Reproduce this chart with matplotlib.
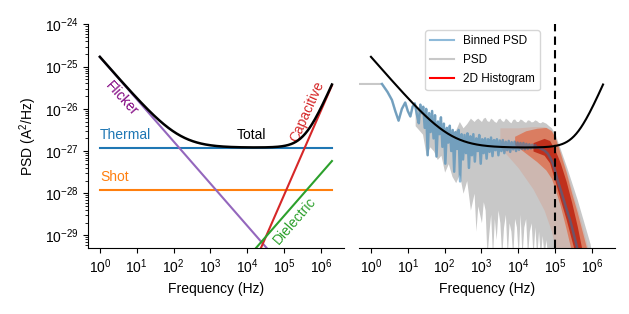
import numpy as np
import matplotlib.pyplot as plt
from matplotlib.lines import Line2D

plt.rcParams['font.family'] = ['Liberation Sans', 'DejaVu Sans']
plt.rcParams['mathtext.fontset'] = 'custom'
plt.rcParams['mathtext.rm'] = 'Liberation Sans'
plt.rcParams['mathtext.it'] = 'Liberation Sans:italic'
plt.rcParams['font.size'] = 10

# noise model parameters (A^2/Hz)
thermal_level = 1.2e-27
shot_level = 1.2e-28
flicker_coef = 1.7e-25      # / f
capacitive_coef = 9e-39     # * f^2
dielectric_coef = 2.9e-34   # * f
f_min, f_max = 1.0, 2e6

# binned PSD (log10 f, log10 PSD)
binned_logf = [0.30, 0.45, 0.57, 0.66, 0.75, 0.84, 0.93, 1.00, 1.07, 1.13, 1.19, 1.25,
               1.30, 1.34, 1.38, 1.42, 1.46, 1.50, 1.54, 1.58, 1.62, 1.66, 1.70, 1.74,
               1.78, 1.82, 1.86, 1.90, 1.94, 1.98, 2.02, 2.06, 2.10, 2.14, 2.18, 2.22,
               2.26, 2.30, 2.34, 2.38, 2.42, 2.46, 2.50, 2.54, 2.58, 2.62, 2.66, 2.70,
               2.74, 2.78, 2.82, 2.86, 2.90, 2.94, 2.98, 3.02, 3.06, 3.10, 3.14, 3.18,
               3.22, 3.26, 3.30, 3.34, 3.38, 3.42, 3.46, 3.50, 3.54, 3.58, 3.62, 3.66,
               3.70, 3.74, 3.78, 3.82, 3.86, 3.90, 3.94, 3.98, 4.02, 4.06, 4.10, 4.14,
               4.18, 4.22, 4.26, 4.30, 4.34, 4.38, 4.42, 4.46, 4.50, 4.55, 4.60, 4.70,
               4.80, 4.88, 4.94, 5.00, 5.07, 5.18, 5.30, 5.41, 5.50, 5.60, 5.65]
binned_logp = [-25.41, -25.60, -25.79, -26.05, -26.28, -26.00, -25.85, -26.05, -26.18, -25.95, -25.87, -26.15,
               -26.34, -25.90, -26.10, -25.95, -26.45, -26.00, -27.10, -26.10, -26.55, -26.05, -26.70, -26.15,
               -27.13, -26.30, -26.60, -26.20, -26.90, -26.35, -27.30, -26.45, -26.80, -26.40, -27.00, -26.50,
               -27.49, -26.55, -26.95, -26.50, -27.72, -26.60, -27.20, -26.62, -27.05, -26.58, -27.40, -26.65,
               -27.10, -26.60, -27.25, -26.70, -27.00, -26.62, -27.30, -26.72, -27.05, -26.70, -27.18, -26.72,
               -27.02, -26.68, -27.12, -26.74, -26.98, -26.72, -27.10, -26.75, -27.00, -26.74, -27.05, -26.78,
               -26.98, -26.76, -27.02, -26.79, -26.96, -26.78, -27.00, -26.80, -26.97, -26.81, -26.95, -26.81,
               -26.96, -26.83, -26.95, -26.84, -26.94, -26.85, -26.93, -26.86, -26.92, -26.91, -26.94, -26.98,
               -27.06, -27.18, -27.30, -27.47, -27.70, -28.00, -28.35, -28.65, -28.95, -29.30, -29.50]

# raw PSD envelope (log10 f, upper, lower)
psd_logf = [1.20, 1.30, 1.40, 1.50, 1.60, 1.70, 1.80, 1.90, 2.00, 2.10, 2.20, 2.30, 2.40, 2.50,
            2.60, 2.70, 2.80, 2.85, 2.90, 3.00, 3.05, 3.10, 3.15, 3.20, 3.25, 3.30, 3.35, 3.40,
            3.45, 3.50, 3.55, 3.60, 3.65, 3.70, 3.75, 3.80, 3.85, 3.90, 3.95, 4.00, 4.05, 4.10,
            4.15, 4.20, 4.25, 4.30, 4.35, 4.40, 4.45, 4.50, 4.55, 4.60, 4.65, 4.70, 4.75, 4.80,
            4.90, 5.00, 5.10, 5.20, 5.32, 5.60, 5.95, 6.00]
psd_upper = [-25.95, -26.00, -26.05, -26.10, -26.15, -26.25, -26.35, -26.40, -26.45, -26.50, -26.55, -26.50, -26.30, -26.45,
             -26.35, -26.22, -26.30, -26.25, -26.22, -26.30, -26.22, -26.20, -26.28, -26.30, -26.22, -26.25, -26.30, -26.32,
             -26.24, -26.22, -26.28, -26.30, -26.22, -26.25, -26.30, -26.33, -26.25, -26.24, -26.30, -26.30, -26.24, -26.26,
             -26.30, -26.32, -26.26, -26.27, -26.31, -26.30, -26.26, -26.28, -26.32, -26.33, -26.30, -26.32, -26.34, -26.38,
             -26.45, -26.60, -26.85, -27.10, -27.40, -28.15, -29.20, -29.50]
psd_lower = [-26.40, -26.50, -26.60, -27.10, -26.90, -27.00, -27.20, -27.10, -27.50, -27.30, -27.60, -27.75, -27.55, -28.00,
             -27.70, -28.40, -28.00, -28.90, -28.30, -28.70, -28.20, -28.40, -29.50, -28.95, -28.50, -29.50, -28.60, -29.10,
             -28.40, -28.70, -29.50, -28.80, -28.50, -29.50, -28.70, -28.90, -29.50, -28.60, -28.80, -29.50, -28.50, -29.50,
             -28.80, -28.60, -29.50, -28.90, -28.70, -29.50, -28.80, -29.50, -28.90, -29.50, -29.00, -29.50, -29.10, -29.50,
             -29.60, -29.60, -29.60, -29.60, -29.60, -29.60, -29.60, -29.60]
psd_flat_logf = [-0.33, 0.30]
psd_flat_logp = [-25.41, -25.41]

# 2D histogram density bands (log10 f, upper, lower)
hist_sparse_logf = [3.50, 4.00, 4.40, 4.70, 4.90, 5.00, 5.14, 5.32, 5.50, 5.70, 5.86, 5.92]
hist_sparse_upper = [-26.45, -26.45, -26.42, -26.42, -26.50, -26.66, -27.00, -27.50, -28.05, -28.65, -29.19, -29.40]
hist_sparse_lower = [-26.90, -27.40, -27.90, -28.40, -28.90, -29.30, -29.60, -29.60, -29.60, -29.60, -29.60, -29.60]
hist_mid_logf = [3.90, 4.20, 4.50, 4.75, 4.90, 5.00, 5.14, 5.30, 5.45, 5.60, 5.75, 5.87]
hist_mid_upper = [-26.65, -26.52, -26.46, -26.44, -26.52, -26.68, -27.05, -27.50, -28.00, -28.45, -28.95, -29.35]
hist_mid_lower = [-26.85, -27.05, -27.25, -27.45, -27.65, -27.90, -28.30, -28.85, -29.40, -29.60, -29.60, -29.60]
hist_core_logf = [4.40, 4.70, 4.85, 5.00, 5.14, 5.30, 5.45, 5.60, 5.72]
hist_core_upper = [-26.80, -26.70, -26.75, -26.98, -27.28, -27.72, -28.22, -28.78, -29.30]
hist_core_lower = [-27.00, -27.10, -27.28, -27.72, -28.15, -28.62, -29.12, -29.60, -29.60]

cutoff_freq = 1e5


def p(a):
    return 10.0 ** np.asarray(a)


f = np.logspace(np.log10(f_min), np.log10(f_max), 400)
thermal = np.full_like(f, thermal_level)
shot = np.full_like(f, shot_level)
flicker = flicker_coef / f
capacitive = capacitive_coef * f ** 2
dielectric = dielectric_coef * f
total = thermal + flicker + capacitive + dielectric

fig = plt.figure(figsize=(6.29, 3.14), dpi=100)
ax1 = fig.add_axes([0.140, 0.210, 0.407, 0.712])
ax2 = fig.add_axes([0.571, 0.210, 0.407, 0.712], sharey=ax1)

# left: noise model
ax1.plot(f, thermal, color='tab:blue', lw=1.5)
ax1.plot(f, shot, color='tab:orange', lw=1.5)
ax1.plot(f, flicker, color='tab:purple', lw=1.5)
ax1.plot(f, capacitive, color='tab:red', lw=1.5)
ax1.plot(f, dielectric, color='tab:green', lw=1.5)
ax1.plot(f, total, color='black', lw=1.8, zorder=5)

ax1.text(1.0, thermal_level * 1.35, 'Thermal', color='tab:blue', ha='left', va='bottom')
ax1.text(1.0, shot_level * 1.35, 'Shot', color='tab:orange', ha='left', va='bottom')
ax1.text(10 ** 4.13, 10 ** -26.62, 'Total', color='black', ha='center', va='center')
ax1.text(10 ** 0.6, 10 ** -25.75, 'Flicker', color='purple', ha='center', va='center', rotation=-48)
ax1.text(10 ** 5.62, 10 ** -26.05, 'Capacitive', color='tab:red', ha='center', va='center', rotation=66)
ax1.text(10 ** 5.30, 10 ** -28.66, 'Dielectric', color='tab:green', ha='center', va='center', rotation=49)

# right: measured PSD
ax2.plot(p(psd_flat_logf + binned_logf[:40]), p(psd_flat_logp + binned_logp[:40]),
         color='#c8c8c8', lw=1.5, zorder=1)
ax2.fill_between(p(psd_logf), p(psd_lower), p(psd_upper), color='#c8c8c8', lw=0, zorder=1)
ax2.fill_between(p(hist_sparse_logf), p(hist_sparse_lower), p(hist_sparse_upper),
                 color='#e07b5c', alpha=0.22, lw=0, zorder=2)
ax2.fill_between(p(hist_mid_logf), p(hist_mid_lower), p(hist_mid_upper),
                 color='#de6f4e', alpha=0.8, lw=0, zorder=2)
ax2.fill_between(p(hist_core_logf), p(hist_core_lower), p(hist_core_upper),
                 color='#c0301c', lw=0, zorder=2)
ax2.plot(p(binned_logf), p(binned_logp), color='tab:blue', alpha=0.5, lw=1.8, zorder=3)
ax2.plot(f, total, color='black', lw=1.5, zorder=5)
ax2.axvline(cutoff_freq, color='black', ls='--', lw=1.5, dashes=(4, 2.5), zorder=6)

handles = [Line2D([], [], color='tab:blue', alpha=0.5, lw=1.5),
           Line2D([], [], color='#c8c8c8', lw=1.5),
           Line2D([], [], color='red', lw=1.5)]
ax2.legend(handles, ['Binned PSD', 'PSD', '2D Histogram'], loc='upper left',
           bbox_to_anchor=(0.235, 1.0), fontsize=8.5, labelspacing=0.6)

for ax in (ax1, ax2):
    ax.set_xscale('log')
    ax.set_yscale('log')
    ax.set_xlim(10 ** -0.32, 10 ** 6.63)
    ax.set_xlabel('Frequency (Hz)')
    ax.spines['top'].set_visible(False)
    ax.spines['right'].set_visible(False)
    ax.set_xticks([10.0 ** k for k in range(7)])

ax1.set_yticks([10.0 ** k for k in range(-29, -23)])
ax1.set_ylim(10 ** -29.3, 1e-24)
ax1.set_ylabel('PSD (A$^2$/Hz)')
ax2.spines['left'].set_visible(False)
ax2.tick_params(axis='y', which='both', left=False, labelleft=False)

fig.savefig('out.png', dpi=100)
